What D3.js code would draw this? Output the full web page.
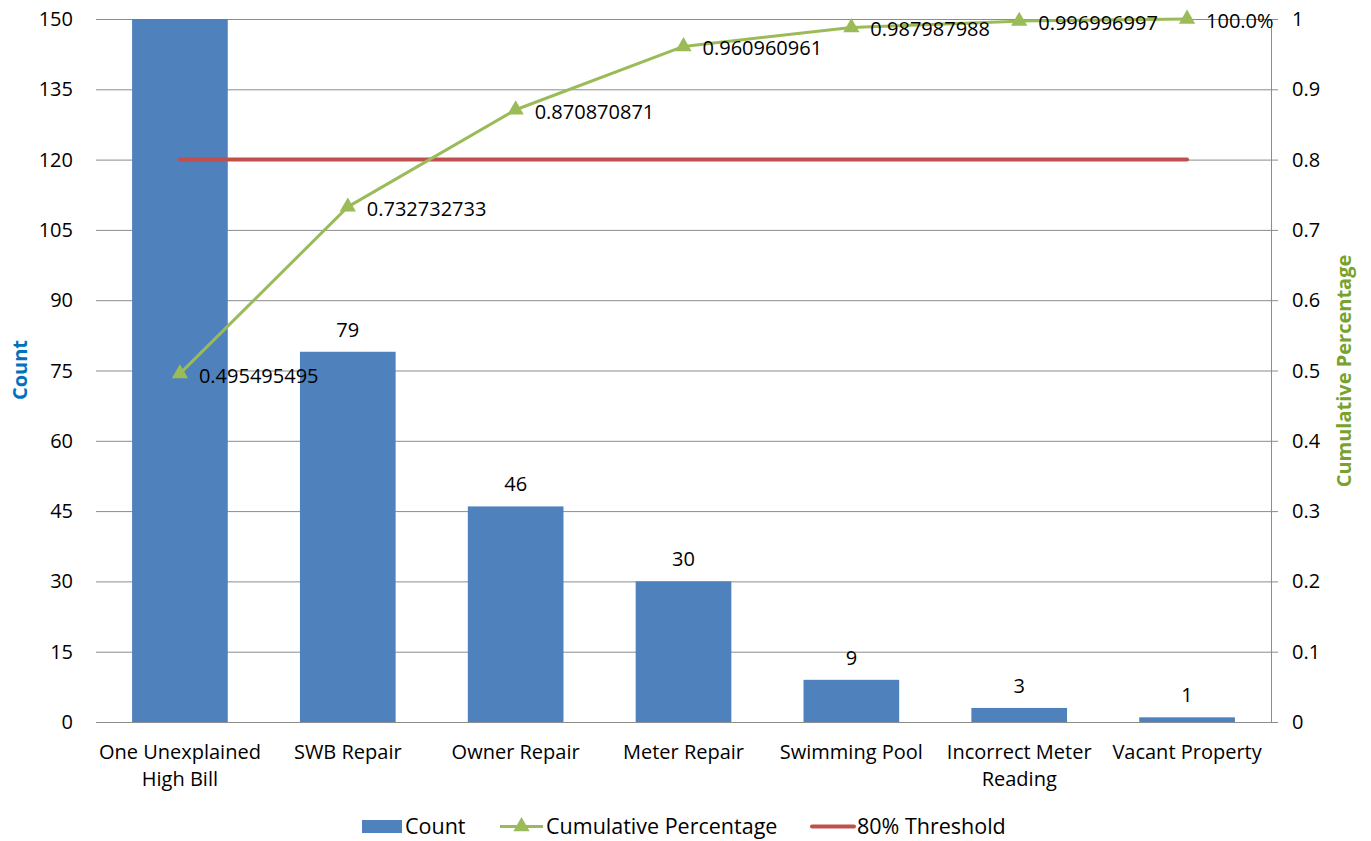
<!DOCTYPE html>
<html><head><meta charset="utf-8">
<script src="https://cdn.jsdelivr.net/npm/d3@7"></script>
<style>
body{margin:0;background:#fff;}
text{font-family:"Open Sans",sans-serif;}
</style></head>
<body><svg id="c" width="1371" height="841"></svg>
<script>
const categories = [["One Unexplained","High Bill"],["SWB Repair"],["Owner Repair"],["Meter Repair"],["Swimming Pool"],["Incorrect Meter","Reading"],["Vacant Property"]];
const counts = [165, 79, 46, 30, 9, 3, 1];
const cumulative = [0.495495495, 0.732732733, 0.870870871, 0.960960961, 0.987987988, 0.996996997, 1.0];
const cumulativeLabels = ["0.495495495","0.732732733","0.870870871","0.960960961","0.987987988","0.996996997","100.0%"];
const threshold = [0.8, 0.8, 0.8, 0.8, 0.8, 0.8, 0.8];
const leftTicks = [0,15,30,45,60,75,90,105,120,135,150];
const rightTicks = [0,0.1,0.2,0.3,0.4,0.5,0.6,0.7,0.8,0.9,1];

const svg = d3.select("#c");
const L = 96, R = 1271, T = 19, B = 722;
const fs = 20;
const idx = d3.range(categories.length);
const x = d3.scaleBand().domain(idx).range([L, R]).paddingInner(0.43).paddingOuter(0.215);
const xc = d3.scaleBand().domain(idx).range([L, R]);
const cx = i => xc(i) + xc.bandwidth()/2;
const yL = d3.scaleLinear().domain([0,150]).range([B, T]);
const yR = d3.scaleLinear().domain([0,1]).range([B, T]);

// gridlines
svg.append("g").selectAll("line").data(leftTicks).join("line")
  .attr("x1", L).attr("x2", R + 7).attr("y1", d => yL(d)+0.5).attr("y2", d => yL(d)+0.5)
  .attr("stroke", "#8c8c8c").attr("stroke-width", 1);
// right axis line
svg.append("line").attr("x1", R+0.5).attr("x2", R+0.5).attr("y1", T).attr("y2", B)
  .attr("stroke", "#8c8c8c").attr("stroke-width", 1);

// left axis labels
svg.append("g").selectAll("text").data(leftTicks).join("text")
  .attr("x", 73).attr("y", d => yL(d)).attr("dy", "0.35em").attr("text-anchor", "end")
  .attr("font-size", fs).attr("fill", "#000").text(d => d);
// right axis labels
const fmtR = d => d === 0 ? "0" : d === 1 ? "1" : d3.format(".1f")(d);
svg.append("g").selectAll("text").data(rightTicks).join("text")
  .attr("x", 1292).attr("y", d => yR(d)).attr("dy", "0.35em").attr("text-anchor", "start")
  .attr("font-size", fs).attr("fill", "#000").text(fmtR);

// clip
svg.append("clipPath").attr("id", "clip").append("rect").attr("x", L).attr("y", T).attr("width", R-L).attr("height", B-T);

// bars
svg.append("g").attr("clip-path", "url(#clip)").selectAll("rect").data(counts).join("rect")
  .attr("x", (d,i) => x(i)).attr("width", x.bandwidth())
  .attr("y", d => yL(d)).attr("height", d => B - yL(d)).attr("fill", "#4F81BD");

// bar labels
svg.append("g").selectAll("text").data(counts.map((d,i)=>({d,i})).filter(o => o.d <= 150)).join("text")
  .attr("x", o => cx(o.i)).attr("y", o => yL(o.d) - 22).attr("dy", "0.35em").attr("text-anchor", "middle")
  .attr("font-size", fs).attr("fill", "#000").text(o => o.d);

// threshold line
svg.append("path").datum(threshold)
  .attr("d", d3.line().x((d,i) => cx(i)).y(d => yR(d)))
  .attr("fill", "none").attr("stroke", "#C0504D").attr("stroke-width", 4).attr("stroke-linecap", "round");

// cumulative line
svg.append("path").datum(cumulative)
  .attr("d", d3.line().x((d,i) => cx(i)).y(d => yR(d)))
  .attr("fill", "none").attr("stroke", "#9BBB59").attr("stroke-width", 3).attr("stroke-linejoin", "round");
const tri = d3.symbol().type(d3.symbolTriangle).size(115);
svg.append("g").selectAll("path").data(cumulative).join("path")
  .attr("transform", (d,i) => `translate(${cx(i)},${yR(d)})`).attr("d", tri).attr("fill", "#9BBB59");
svg.append("g").selectAll("text").data(cumulative).join("text")
  .attr("x", (d,i) => cx(i) + 19).attr("y", d => yR(d) + 2).attr("dy", "0.35em")
  .attr("font-size", fs).attr("fill", "#000").text((d,i) => cumulativeLabels[i]);

// category labels
const cg = svg.append("g").selectAll("text").data(categories).join("text")
  .attr("x", (d,i) => cx(i)).attr("y", 752).attr("dy", "0.35em").attr("text-anchor", "middle")
  .attr("font-size", fs).attr("fill", "#000");
cg.each(function(lines){
  const t = d3.select(this);
  lines.forEach((l,k) => t.append("tspan").attr("x", t.attr("x")).attr("dy", k === 0 ? "0.35em" : "27px").text(l));
});

// axis titles
svg.append("text").attr("transform", "translate(27,370) rotate(-90)").attr("text-anchor", "middle")
  .attr("font-size", fs).attr("font-weight", "bold").attr("fill", "#0070C0").text("Count");
svg.append("text").attr("transform", "translate(1351,371) rotate(-90)").attr("text-anchor", "middle")
  .attr("font-size", fs).attr("font-weight", "bold").attr("fill", "#77A22E").text("Cumulative Percentage");

// legend
const ly = 826.5;
const lfs = 21.5;
const lg = svg.append("g");
lg.append("rect").attr("x", 362).attr("y", ly - 6.5).attr("width", 40).attr("height", 13).attr("fill", "#4F81BD");
lg.append("text").attr("x", 405).attr("y", ly).attr("dy", "0.35em").attr("font-size", lfs).text("Count");
lg.append("line").attr("x1", 500).attr("x2", 543).attr("y1", ly).attr("y2", ly).attr("stroke", "#9BBB59").attr("stroke-width", 3);
lg.append("path").attr("transform", `translate(521.5,${ly})`).attr("d", tri).attr("fill", "#9BBB59");
lg.append("text").attr("x", 546).attr("y", ly).attr("dy", "0.35em").attr("font-size", lfs).text("Cumulative Percentage");
lg.append("line").attr("x1", 812).attr("x2", 854).attr("y1", ly).attr("y2", ly).attr("stroke", "#C0504D").attr("stroke-width", 4).attr("stroke-linecap", "round");
lg.append("text").attr("x", 857).attr("y", ly).attr("dy", "0.35em").attr("font-size", lfs).text("80% Threshold");
</script></body></html>
